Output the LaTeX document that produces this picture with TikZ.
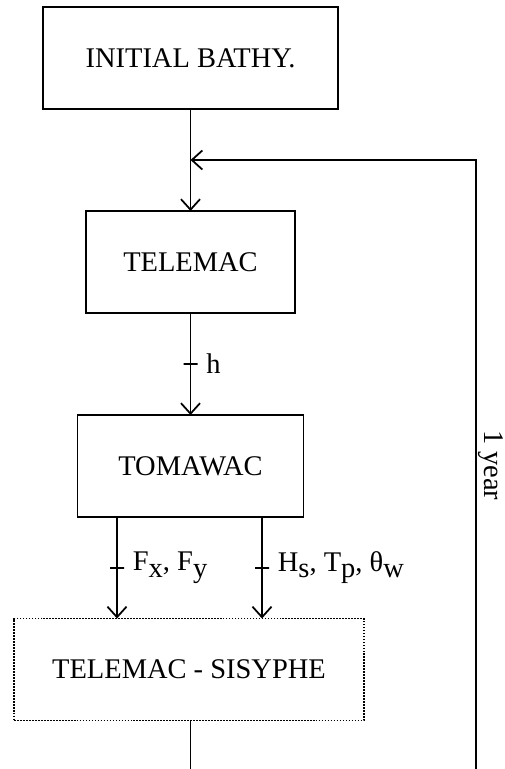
\documentclass[tikz,border=0pt]{standalone}
\usepackage{fontspec}
\setmainfont{Liberation Serif}
\usetikzlibrary{arrows.meta}
\newcommand{\lowsub}[1]{\raisebox{-0.22em}{#1}}

\begin{document}
\begin{tikzpicture}[x=0.2mm, y=-0.2mm, line width=1pt,
	box/.style={draw, minimum height=20.4mm, inner sep=0, outer sep=0, font=\fontsize{16.2}{19}\selectfont},
	flow/.style={-{Straight Barb[length=2.1mm, width=3.8mm]}},
	tickmark/.style={draw, minimum width=2.8mm, minimum height=0, inner sep=0, outer sep=0},
	lbl/.style={right=3mm, inner sep=0, font=\fontsize{16.2}{19}\selectfont},
	year/.style={rotate=-90, anchor=south, inner sep=0.3mm, font=\fontsize{16.2}{19}\selectfont}]
	\useasboundingbox (0, 0) rectangle (505, 769);
	\node [box, minimum width=59mm] (bathy) at (190.5, 58) {INITIAL BATHY.};
	\node [box, minimum width=41.8mm] (telemac) at (190.5, 262) {TELEMAC};
	\node [box, minimum width=45.2mm] (tomawac) at (190.5, 466) {TOMAWAC};
	\node [box, minimum width=70mm, dash pattern=on 1pt off 0.7pt] (sisyphe) at (189, 669.5) {TELEMAC - SISYPHE};
	\coordinate (join) at (190.5, 160);
	\coordinate (loopa) at (190.5, 770.5);
	\coordinate (loopb) at (476, 770.5);
	\coordinate (loopc) at (476, 160);
	\coordinate (fx) at ([xshift=-14.7mm]tomawac.south);
	\coordinate (hs) at ([xshift=14.3mm]tomawac.south);
	\draw [flow] (bathy) -- (telemac);
	\draw [flow] (telemac) -- node [tickmark] {} node [lbl] {h} (tomawac);
	\draw [flow] (fx) -- node [tickmark] {} node [lbl] {F\lowsub{x}, F\lowsub{y}} (fx |- sisyphe.north);
	\draw [flow] (hs) -- node [tickmark] {} node [lbl] {H\lowsub{s}, T\lowsub{p}, θ\lowsub{w}} (hs |- sisyphe.north);
	\draw [flow] (sisyphe.south -| join) -- (loopa) -- (loopb)
		-- node [year] {1 year} (loopc) -- (join);
\end{tikzpicture}
\end{document}
